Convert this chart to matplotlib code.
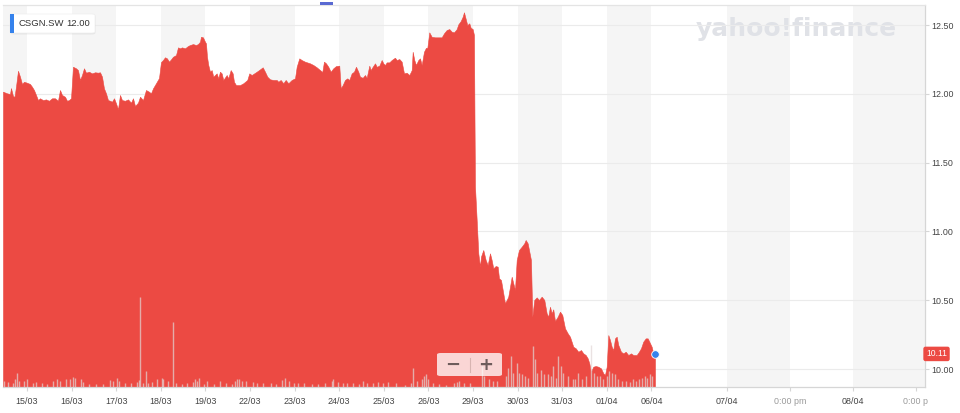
import matplotlib
matplotlib.use("Agg")
import matplotlib.pyplot as plt
import matplotlib.transforms as mtransforms
from matplotlib.patches import FancyBboxPatch, Rectangle
from matplotlib.lines import Line2D

# ---------------- data ----------------
ticker = "CSGN.SW"
hover_price = "12.00"
last_price = 10.11

day_labels = ["15/03", "16/03", "17/03", "18/03", "19/03", "22/03", "23/03", "24/03",
              "25/03", "26/03", "29/03", "30/03", "31/03", "01/04", "06/04"]
day_ticks = list(range(len(day_labels)))
future_labels = ["07/04", "0:00 pm", "08/04", "0:00 p"]
future_ticks = [15.70, 17.11, 18.52, 19.93]
y_ticks = [10.00, 10.50, 11.00, 11.50, 12.00, 12.50]

# time in trading-day units (0 = start of 15/03)
t = [-0.538, -0.448, -0.381, -0.359, -0.314, -0.280, -0.247, -0.202, -0.157, -0.112,
     -0.067, 0.000, 0.067, 0.112, 0.157, 0.202, 0.247, 0.291, 0.359, 0.426,
     0.493, 0.561, 0.628, 0.695, 0.740, 0.785, 0.852, 0.897, 0.942, 0.987,
     1.031, 1.099, 1.143, 1.188, 1.233, 1.278, 1.323, 1.390, 1.457, 1.525,
     1.592, 1.637, 1.682, 1.726, 1.771, 1.816, 1.861, 1.906, 1.951, 1.996,
     2.040, 2.085, 2.130, 2.197, 2.265, 2.332, 2.377, 2.422, 2.489, 2.534,
     2.601, 2.668, 2.735, 2.780, 2.825, 2.892, 2.960, 3.004, 3.049, 3.094,
     3.139, 3.184, 3.229, 3.274, 3.341, 3.386, 3.430, 3.475, 3.543, 3.610,
     3.655, 3.722, 3.789, 3.834, 3.879, 3.901, 3.946, 3.991, 4.013, 4.036,
     4.065, 4.103, 4.141, 4.177, 4.253, 4.289, 4.327, 4.365, 4.401, 4.478,
     4.513, 4.567, 4.612, 4.641, 4.686, 4.776, 4.850, 4.939, 4.984, 5.038,
     5.150, 5.224, 5.285, 5.336, 5.388, 5.448, 5.522, 5.599, 5.635, 5.688,
     5.747, 5.800, 5.859, 5.935, 6.009, 6.047, 6.105, 6.159, 6.233, 6.345,
     6.419, 6.496, 6.570, 6.621, 6.659, 6.704, 6.756, 6.809, 6.868, 6.928,
     7.002, 7.034, 7.078, 7.130, 7.182, 7.226, 7.280, 7.332, 7.377, 7.428,
     7.466, 7.527, 7.578, 7.617, 7.675, 7.706, 7.751, 7.803, 7.841, 7.899,
     7.953, 7.989, 8.027, 8.065, 8.123, 8.177, 8.251, 8.289, 8.348, 8.401,
     8.453, 8.513, 8.572, 8.626, 8.648, 8.684, 8.722, 8.774, 8.812, 8.850,
     8.901, 8.946, 8.975, 9.020, 9.074, 9.148, 9.222, 9.298, 9.350, 9.410,
     9.469, 9.522, 9.574, 9.635, 9.670, 9.724, 9.769, 9.798, 9.843, 9.872,
     9.917, 9.948, 9.993, 10.022, 10.034, 10.045, 10.083, 10.119, 10.157, 10.179,
     10.231, 10.285, 10.330, 10.381, 10.419, 10.455, 10.509, 10.554, 10.583, 10.628,
     10.679, 10.717, 10.756, 10.791, 10.830, 10.868, 10.904, 10.942, 10.980, 11.031,
     11.092, 11.150, 11.181, 11.226, 11.256, 11.300, 11.330, 11.374, 11.428, 11.480,
     11.540, 11.599, 11.652, 11.688, 11.726, 11.765, 11.800, 11.839, 11.899, 11.951,
     12.002, 12.063, 12.123, 12.175, 12.249, 12.303, 12.361, 12.422, 12.473, 12.527,
     12.572, 12.608, 12.646, 12.697, 12.751, 12.809, 12.870, 12.922, 12.960, 12.998,
     13.034, 13.072, 13.110, 13.146, 13.184, 13.222, 13.258, 13.318, 13.370, 13.424,
     13.482, 13.543, 13.594, 13.670, 13.722, 13.767, 13.818, 13.872, 13.917, 13.953,
     14.007, 14.043, 14.081]

price = [12.016, 12.004, 11.999, 12.042, 11.984, 11.979, 12.052, 12.168, 12.125, 12.072,
         12.088, 12.081, 12.072, 12.052, 12.028, 11.992, 11.955, 11.968, 11.955, 11.960,
         11.950, 11.968, 11.968, 11.950, 12.028, 11.992, 11.979, 11.950, 11.955, 11.968,
         12.197, 12.186, 12.173, 12.101, 12.137, 12.186, 12.154, 12.161, 12.149, 12.157,
         12.154, 12.157, 12.125, 12.040, 12.004, 11.955, 11.950, 11.943, 11.968, 11.931,
         11.888, 11.992, 11.955, 11.950, 11.960, 11.936, 11.968, 11.912, 11.936, 11.979,
         11.955, 12.028, 12.016, 12.004, 12.040, 12.077, 12.115, 12.231, 12.246, 12.266,
         12.258, 12.234, 12.251, 12.270, 12.282, 12.338, 12.331, 12.338, 12.331, 12.348,
         12.355, 12.362, 12.355, 12.362, 12.379, 12.415, 12.411, 12.379, 12.367, 12.270,
         12.210, 12.161, 12.173, 12.125, 12.149, 12.113, 12.161, 12.149, 12.101, 12.137,
         12.113, 12.173, 12.149, 12.088, 12.064, 12.064, 12.077, 12.101, 12.149, 12.137,
         12.161, 12.178, 12.193, 12.161, 12.125, 12.106, 12.101, 12.101, 12.088, 12.101,
         12.077, 12.101, 12.077, 12.101, 12.113, 12.197, 12.258, 12.246, 12.234, 12.222,
         12.210, 12.193, 12.173, 12.159, 12.234, 12.222, 12.197, 12.161, 12.186, 12.202,
         12.205, 12.040, 12.064, 12.101, 12.113, 12.101, 12.149, 12.161, 12.197, 12.161,
         12.125, 12.117, 12.137, 12.117, 12.205, 12.173, 12.197, 12.222, 12.197, 12.205,
         12.246, 12.222, 12.210, 12.229, 12.229, 12.246, 12.263, 12.246, 12.253, 12.234,
         12.149, 12.154, 12.137, 12.173, 12.306, 12.246, 12.210, 12.246, 12.258, 12.210,
         12.306, 12.335, 12.331, 12.447, 12.415, 12.411, 12.411, 12.411, 12.440, 12.464,
         12.471, 12.452, 12.447, 12.471, 12.505, 12.529, 12.561, 12.593, 12.537, 12.500,
         12.513, 12.481, 12.471, 12.428, 11.810, 11.325, 11.083, 10.841, 10.744, 10.817,
         10.865, 10.792, 10.756, 10.841, 10.792, 10.732, 10.749, 10.744, 10.660, 10.647,
         10.551, 10.478, 10.502, 10.526, 10.598, 10.671, 10.623, 10.575, 10.792, 10.865,
         10.889, 10.914, 10.938, 10.914, 10.865, 10.792, 10.380, 10.502, 10.521, 10.502,
         10.526, 10.502, 10.405, 10.380, 10.453, 10.405, 10.434, 10.349, 10.380, 10.417,
         10.393, 10.296, 10.260, 10.235, 10.162, 10.151, 10.126, 10.138, 10.114, 10.102,
         10.078, 10.042, 9.981, 10.017, 10.022, 10.017, 10.005, 9.969, 9.957, 10.017,
         10.247, 10.211, 10.162, 10.138, 10.223, 10.235, 10.175, 10.126, 10.114, 10.126,
         10.102, 10.114, 10.102, 10.102, 10.126, 10.151, 10.199, 10.223, 10.223, 10.199,
         10.162, 10.114, 10.110]

# volume (thousand shares) at trade times (trading-day units)
vol_t = [-0.516, -0.419, -0.321, -0.269, -0.217, -0.173, -0.067, 0.007, 0.128, 0.202,
         0.330, 0.442, 0.576, 0.679, 0.740, 0.874, 0.964, 1.025, 1.076, 1.204,
         1.262, 1.397, 1.547, 1.697, 1.861, 1.935, 2.011, 2.070, 2.197, 2.325,
         2.460, 2.504, 2.540, 2.594, 2.661, 2.720, 2.796, 2.908, 3.020, 3.056,
         3.168, 3.274, 3.341, 3.469, 3.594, 3.715, 3.767, 3.818, 3.863, 3.969,
         4.043, 4.193, 4.327, 4.462, 4.590, 4.664, 4.715, 4.760, 4.814, 4.910,
         5.061, 5.164, 5.298, 5.464, 5.583, 5.711, 5.785, 5.881, 5.987, 6.083,
         6.211, 6.383, 6.531, 6.682, 6.832, 6.868, 6.980, 7.078, 7.182, 7.316,
         7.451, 7.527, 7.630, 7.751, 7.877, 7.989, 8.101, 8.274, 8.475, 8.603,
         8.648, 8.751, 8.850, 8.901, 8.946, 8.998, 9.110, 9.244, 9.395, 9.574,
         9.635, 9.693, 9.798, 9.933,
         10.195, 10.247, 10.365, 10.455, 10.531, 10.740, 10.791, 10.852, 10.904, 10.980,
         11.038, 11.092, 11.166, 11.240, 11.352, 11.390, 11.442, 11.518, 11.592, 11.688,
         11.742, 11.800, 11.854, 11.913, 11.966, 12.025, 12.137, 12.235, 12.287, 12.361,
         12.437, 12.534, 12.646, 12.720, 12.787, 12.848, 12.922, 12.998, 13.056, 13.110,
         13.184, 13.258, 13.334, 13.430, 13.520, 13.581, 13.655, 13.729, 13.782, 13.857,
         13.908, 13.969, 14.020]
vol = [60, 50, 37, 83, 137, 60, 60, 83, 37, 50,
       37, 27, 60, 77, 60, 77, 77, 103, 93, 77,
       50, 27, 27, 27, 70, 60, 93, 60, 37, 43,
       50, 70, 897, 43, 160, 43, 50, 83, 93, 77,
       60, 647, 43, 27, 37, 50, 77, 60, 93, 27,
       60, 27, 60, 37, 27, 60, 83, 77, 60, 60,
       50, 37, 37, 43, 27, 70, 93, 60, 37, 43,
       37, 27, 27, 37, 60, 77, 50, 43, 37, 43,
       27, 60, 37, 43, 50, 43, 50, 37, 17, 43,
       193, 60, 77, 110, 127, 77, 43, 27, 17, 43,
       50, 60, 43, 37,
       210, 110, 77, 60, 60, 110, 193, 310, 143, 243,
       143, 127, 110, 93, 410, 277, 143, 170, 127, 127,
       110, 210, 93, 310, 210, 143, 110, 77, 77, 143,
       77, 110, 420, 143, 110, 110, 77, 110, 160, 143,
       127, 77, 60, 60, 50, 77, 60, 77, 93, 110,
       93, 127, 110]

# ---------------- style ----------------
RED = "#ec4a43"
BLUE = "#3582ec"
BAND = "#f5f5f5"
GRID = "#ebebeb"
AXC = "#d6d6d6"
FONT = ["Liberation Sans", "DejaVu Sans"]
plt.rcParams["font.family"] = FONT

W, H = 960, 413
fig = plt.figure(figsize=(W / 100, H / 100), dpi=100)
fig.patch.set_facecolor("white")

L, R, B, T = 3, 925, 387, 5
pos = [L / W, 1 - B / H, (R - L) / W, (B - T) / H]
ax = fig.add_axes(pos, zorder=0)
xmin, xmax = -0.538, 20.135
ymin, ymax = 9.8695, 12.646
ax.set_xlim(xmin, xmax)
ax.set_ylim(ymin, ymax)
ax.set_facecolor("white")

# alternating day bands
for k in range(0, len(day_ticks), 2):
    ax.axvspan(max(k - 1, xmin), k, color=BAND, lw=0, zorder=0.5)
ax.axvspan(future_ticks[0], future_ticks[1], color=BAND, lw=0, zorder=0.5)
ax.axvspan(future_ticks[2], xmax, color=BAND, lw=0, zorder=0.5)

# watermark
ax.text(0.86, 0.938, "yahoo!finance", transform=ax.transAxes, ha="center", va="center",
        fontsize=18, fontweight="heavy", color="#e0e2e7", family="DejaVu Sans", zorder=0.8)

for yv in y_ticks:
    ax.axhline(yv, color=GRID, lw=0.8, zorder=1)

ax.fill_between(t, price, ymin, color=RED, lw=0.4, edgecolor=RED, zorder=2)
ax.plot(t[-1], price[-1], "o", color=BLUE, ms=5.5, mec="white", mew=0.6, zorder=6, clip_on=False)

# spines
ax.spines["left"].set_visible(False)
ax.spines["top"].set_color("#e4e4e4")
ax.spines["right"].set_color(AXC)
ax.spines["bottom"].set_color(AXC)
for s in ["top", "right", "bottom"]:
    ax.spines[s].set_linewidth(0.9)

ax.yaxis.tick_right()
ax.set_yticks(y_ticks)
ax.set_yticklabels([f"{v:.2f}" for v in y_ticks])
ax.tick_params(axis="y", length=3, width=0.8, color=AXC, labelsize=6.4,
               labelcolor="#444444", pad=1.8)

ax.set_xticks(day_ticks + future_ticks)
ax.set_xticklabels(day_labels + future_labels)
ax.tick_params(axis="x", length=3, width=0.8, color=AXC, labelsize=6.4,
               labelcolor="#444444", pad=4.5)
for lab in ax.get_xticklabels():
    if lab.get_text().startswith("0:00"):
        lab.set_color("#9a9a9a")

# last price tag
trans = mtransforms.blended_transform_factory(ax.transAxes, ax.transData)
ax.text(1.0125, last_price, f"{last_price:.2f}", transform=trans, ha="center", va="center",
        fontsize=6.2, color="white", zorder=7, clip_on=False,
        bbox=dict(boxstyle="round,pad=0.32,rounding_size=0.25", fc=RED, ec="none"))

# volume overlay
axv = fig.add_axes(pos, sharex=ax, zorder=1)
axv.patch.set_visible(False)
axv.set_ylim(0, 3820)
axv.axis("off")
axv.vlines(vol_t, 0, vol, color="#e2d6d6", alpha=0.7, lw=1.0)

# ---------------- UI overlays (figure pixels) ----------------
def fx(x):
    return x / W

def fy(y):
    return 1 - y / H

# tooltip box
fig.patches.append(FancyBboxPatch((fx(10.5), fy(34.5)), fx(85), 20 / H,
                                  boxstyle="round,pad=0,rounding_size=0.004",
                                  transform=fig.transFigure, fc="#000000", alpha=0.06,
                                  ec="none", zorder=8))
fig.patches.append(FancyBboxPatch((fx(10), fy(33)), fx(85), 19 / H,
                                  boxstyle="round,pad=0,rounding_size=0.003",
                                  transform=fig.transFigure, fc="white", ec="#eeeeee",
                                  lw=0.5, zorder=8.1))
fig.patches.append(Rectangle((fx(10), fy(33)), fx(4), 19 / H, transform=fig.transFigure,
                             fc=BLUE, ec="none", zorder=8.2))
fig.text(fx(18.5), fy(23.5), ticker, ha="left", va="center", fontsize=6.8, color="#333333",
         fontweight="medium", zorder=8.3)
fig.text(fx(66.5), fy(23.5), hover_price, ha="left", va="center", fontsize=6.8,
         color="#333333", zorder=8.3)

# top hover indicator
fig.patches.append(Rectangle((fx(320), fy(5)), fx(13), 3 / H, transform=fig.transFigure,
                             fc="#5a6ad2", ec="none", zorder=8))

# zoom widget
fig.patches.append(FancyBboxPatch((fx(437), fy(376)), fx(65), 23 / H,
                                  boxstyle="round,pad=0,rounding_size=0.004",
                                  transform=fig.transFigure, fc="white", alpha=0.78,
                                  ec="none", zorder=8))
fig.lines.append(Line2D([fx(469.5), fx(469.5)], [fy(358), fy(372)], transform=fig.transFigure,
                        color="#d8b4b1", lw=0.8, zorder=8.1))
fig.text(fx(453), fy(365), "\u2212", ha="center", va="center", fontsize=13, fontweight="bold",
         color="#6e5c5c", family="DejaVu Sans", zorder=8.2)
fig.text(fx(486), fy(365), "+", ha="center", va="center", fontsize=13, fontweight="bold",
         color="#6e5c5c", family="DejaVu Sans", zorder=8.2)

fig.savefig("out.png", dpi=100, facecolor="white")
